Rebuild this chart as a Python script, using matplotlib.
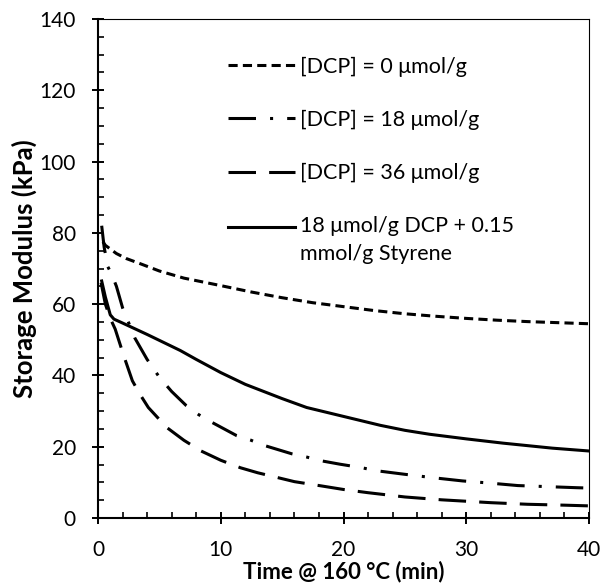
import matplotlib
matplotlib.use("Agg")
import matplotlib.pyplot as plt
from matplotlib.legend_handler import HandlerLine2D
from matplotlib.ticker import MultipleLocator

plt.rcParams['font.family'] = ['Lato', 'DejaVu Sans']

# ---- data ----
t0 = [0.4, 0.6, 1.5, 2.3, 3.4, 5, 7, 10, 12.5, 15, 17.5, 20, 22.5, 25, 27.5, 30, 32.5, 35, 37.5, 40]
g0 = [77.5, 76.5, 74.2, 72.8, 71.4, 69.3, 67.3, 65.2, 63.4, 61.8, 60.4, 59.3, 58.2, 57.3, 56.6, 56.0, 55.5, 55.1, 54.8, 54.5]

t18 = [0.3, 0.5, 0.8, 1.1, 1.5, 2.0, 3.0, 4.0, 5.0, 6.0, 7.2, 8.2, 9.3, 11.3, 12.4, 13.5, 15.8, 17, 18.1,
       19.7, 21.5, 22.6, 24.9, 27.3, 29.7, 31.9, 34.2, 36.6, 39, 40]
g18 = [82, 76, 70.5, 68.5, 65, 59, 50.5, 44.5, 39.5, 35.5, 31.5, 29, 26.8, 23.1, 21.9, 20.4, 18.0, 17.1, 16.1,
       15.1, 14.1, 13.3, 12.3, 11.3, 10.4, 9.8, 9.1, 8.8, 8.5, 8.4]

t36 = [0.25, 0.6, 1.0, 1.4, 2.1, 2.8, 3.4, 4.1, 5.6, 7.0, 8.4, 10, 11.6, 13, 14.8, 16, 18.2, 20, 22, 25,
       28, 30, 32, 35, 38, 40]
g36 = [66, 60, 56, 53, 45.5, 38.5, 34.8, 31, 25.4, 21.8, 18.8, 16.2, 14.1, 12.7, 11.2, 10.2, 9.0, 8.0, 7.1, 5.9,
       5.1, 4.7, 4.3, 3.85, 3.6, 3.4]

ts = [0.3, 0.6, 1.0, 1.3, 2, 4, 6.7, 8, 10, 12, 15, 17, 20, 23, 25, 27, 30, 33, 35, 37, 40]
gs = [66.5, 62, 57, 55.8, 54.7, 51.5, 47, 44.5, 40.8, 37.5, 33.5, 31, 28.5, 26, 24.6, 23.5, 22.2, 21, 20.3, 19.6, 18.8]

labels = ["[DCP] = 0 \u03bcmol/g", "[DCP] = 18 \u03bcmol/g", "[DCP] = 36 \u03bcmol/g",
          "18 \u03bcmol/g DCP + 0.15\nmmol/g Styrene"]
xticks = [0, 10, 20, 30, 40]
yticks = [0, 20, 40, 60, 80, 100, 120, 140]


class HandlerTopLine(HandlerLine2D):
    def create_artists(self, legend, orig_handle, xdescent, ydescent, width, height, fontsize, trans):
        arts = super().create_artists(legend, orig_handle, xdescent, ydescent, width, height, fontsize, trans)
        for a in arts:
            a.set_ydata([y + 0.66 * fontsize for y in a.get_ydata()])
        return arts


fig = plt.figure(figsize=(6.04, 5.87), dpi=100)
ax = fig.add_axes([98 / 604, (587 - 518) / 587, (589 - 98) / 604, (518 - 19) / 587])

lw = 2.2
ax.plot(t0, g0, color='black', lw=lw, linestyle=(0, (3.0, 1.7)), label=labels[0])
ax.plot(t18, g18, color='black', lw=lw, linestyle=(0, (9, 4.6, 1, 4.6)), label=labels[1])
ax.plot(t36, g36, color='black', lw=lw, linestyle=(0, (9, 4.3)), label=labels[2])
l4, = ax.plot(ts, gs, color='black', lw=lw, linestyle='-', label=labels[3])

ax.set_xlim(0, 40)
ax.set_ylim(0, 140)
ax.set_xticks(xticks)
ax.set_yticks(yticks)
ax.xaxis.set_minor_locator(MultipleLocator(2))
ax.yaxis.set_minor_locator(MultipleLocator(5))
ax.tick_params(axis='both', which='major', direction='inout', length=8, width=1.4, labelsize=15)
ax.tick_params(axis='x', which='major', pad=12)
ax.tick_params(axis='y', which='major', pad=12)
ax.tick_params(axis='both', which='minor', direction='in', length=4, width=1.2)

for s in ['left', 'bottom']:
    ax.spines[s].set_linewidth(1.5)
for s in ['top', 'right']:
    ax.spines[s].set_linewidth(0.8)

ax.set_xlabel("Time @ 160 \u00b0C (min)", fontsize=16, fontweight='bold', labelpad=0)
ax.set_ylabel("Storage Modulus (kPa)", fontsize=18.5, fontweight='bold', labelpad=2)

leg = ax.legend(loc='upper left', bbox_to_anchor=(0.265, 0.925), frameon=False, fontsize=15.5,
                borderpad=0, borderaxespad=0,
                handlelength=3.1, handletextpad=0.25, labelspacing=1.54,
                handler_map={l4: HandlerTopLine()})
for t in leg.get_texts():
    t.set_linespacing(1.5)

fig.savefig("out.png", dpi=100)
